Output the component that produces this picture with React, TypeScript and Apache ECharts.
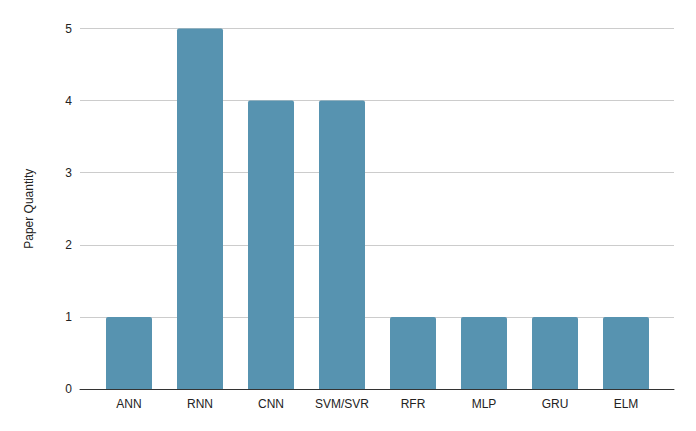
import React, { useEffect, useRef } from "react";
import * as echarts from "echarts";

const categories = ["ANN", "RNN", "CNN", "SVM/SVR", "RFR", "MLP", "GRU", "ELM"];
const paperQuantity = [1, 5, 4, 4, 1, 1, 1, 1];
const yTicks = [0, 1, 2, 3, 4, 5];

export default function App() {
  const ref = useRef<HTMLDivElement>(null);
  useEffect(() => {
    if (!ref.current) return;
    const chart = echarts.init(ref.current, null, { renderer: "svg" });
    const font = "Arial, 'Liberation Sans', sans-serif";
    chart.setOption({
      animation: false,
      backgroundColor: "#ffffff",
      grid: [
        { left: 80, right: 22, top: 28.5, bottom: 42, containLabel: false },
        { left: 93.5, right: 34.5, top: 28.5, bottom: 42, containLabel: false },
      ],
      xAxis: [
        {
          type: "category",
          gridIndex: 0,
          data: [""],
          axisLine: { show: true, lineStyle: { color: "#333333", width: 1 } },
          axisTick: { show: false },
          axisLabel: { show: false },
          splitLine: { show: false },
        },
        {
          type: "category",
          gridIndex: 1,
          data: categories,
          axisLine: { show: false },
          axisTick: { show: false },
          axisLabel: { color: "#222222", fontSize: 12, fontFamily: font, margin: 9 },
          splitLine: { show: false },
        },
      ],
      yAxis: [
        {
          type: "value",
          gridIndex: 0,
          min: yTicks[0],
          max: yTicks[yTicks.length - 1],
          interval: 1,
          name: "Paper Quantity",
          nameLocation: "middle",
          nameGap: 45,
          nameTextStyle: { color: "#222222", fontSize: 12, fontFamily: font },
          axisLine: { show: false },
          axisTick: { show: false },
          axisLabel: { color: "#222222", fontSize: 12, fontFamily: font, margin: 8 },
          splitLine: { show: true, lineStyle: { color: "#cccccc", width: 1 } },
        },
        {
          type: "value",
          gridIndex: 1,
          min: yTicks[0],
          max: yTicks[yTicks.length - 1],
          interval: 1,
          show: false,
          splitLine: { show: false },
        },
      ],
      series: [
        {
          type: "bar",
          xAxisIndex: 1,
          yAxisIndex: 1,
          data: paperQuantity,
          barWidth: 46,
          itemStyle: { color: "#5793b0", borderRadius: [2, 2, 0, 0] },
          z: 1,
        },
      ],
    });
    return () => chart.dispose();
  }, []);
  return (
    <div
      ref={ref}
      style={{ position: "absolute", left: 0, top: 0, width: 696, height: 431 }}
    />
  );
}
